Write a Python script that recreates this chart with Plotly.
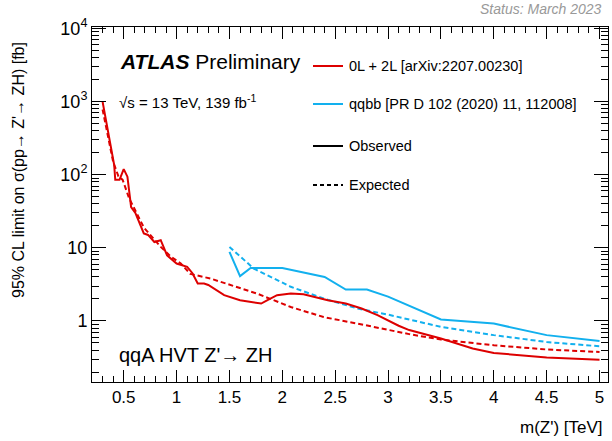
import plotly.graph_objects as go

# 0L + 2L (red)
red_obs_x = [0.3, 0.41, 0.42, 0.46, 0.5, 0.535, 0.57, 0.61, 0.69, 0.73, 0.79, 0.85, 0.91, 1.0, 1.1, 1.15, 1.2, 1.26, 1.3, 1.45, 1.6, 1.8, 1.86, 1.95, 2.08, 2.2, 2.43, 2.6, 2.75, 2.9, 3.1, 3.2, 3.5, 3.8, 4.0, 4.5, 5.0]
red_obs_y = [1000, 135, 85, 85, 119, 94, 36, 30, 15.7, 15, 12, 12.7, 7.9, 6.1, 5.5, 4.5, 3.25, 3.25, 3.1, 2.25, 1.92, 1.73, 1.92, 2.25, 2.37, 2.32, 1.92, 1.73, 1.48, 1.2, 0.86, 0.75, 0.574, 0.42, 0.365, 0.316, 0.295]
red_exp_x = [0.3, 0.4, 0.45, 0.49, 0.55, 0.69, 0.85, 0.95, 1.04, 1.13, 1.32, 1.76, 2.08, 2.39, 2.71, 3.0, 3.2, 3.5, 4.0, 4.5, 5.0]
red_exp_y = [780, 150, 95, 85, 48, 19, 10.3, 7.5, 6.1, 4.4, 3.8, 2.37, 1.55, 1.13, 0.92, 0.75, 0.66, 0.556, 0.465, 0.407, 0.376]

# qqbb (blue)
blue_obs_x = [1.5, 1.6, 1.7, 2.0, 2.4, 2.6, 2.8, 3.0, 3.5, 4.0, 4.5, 5.0]
blue_obs_y = [8.8, 4.1, 5.3, 5.3, 4.0, 2.69, 2.69, 2.15, 1.05, 0.92, 0.64, 0.53]
blue_exp_x = [1.5, 1.73, 2.08, 2.39, 2.71, 3.0, 3.5, 4.0, 4.5, 5.0]
blue_exp_y = [10.3, 5.2, 2.93, 2.03, 1.48, 1.22, 0.83, 0.64, 0.515, 0.45]

x_ticks = [0.5, 1, 1.5, 2, 2.5, 3, 3.5, 4, 4.5, 5]
x_ticklabels = ["0.5", "1", "1.5", "2", "2.5", "3", "3.5", "4", "4.5", "5"]
y_ticks = [1, 10, 100, 1000, 10000]
y_ticklabels = ["1", "10", "10<sup>2</sup>", "10<sup>3</sup>", "10<sup>4</sup>"]

RED = "#dd0000"
BLUE = "#12b0ee"
DASH = "5px,3px"

fig = go.Figure()
fig.add_trace(go.Scatter(x=red_exp_x, y=red_exp_y, mode="lines", line=dict(color=RED, width=2, dash=DASH)))
fig.add_trace(go.Scatter(x=blue_exp_x, y=blue_exp_y, mode="lines", line=dict(color=BLUE, width=2, dash=DASH)))
fig.add_trace(go.Scatter(x=red_obs_x, y=red_obs_y, mode="lines", line=dict(color=RED, width=2)))
fig.add_trace(go.Scatter(x=blue_obs_x, y=blue_obs_y, mode="lines", line=dict(color=BLUE, width=2)))

x_minor = [round(0.2 + 0.1 * i, 2) for i in range(0, 50) if round(0.2 + 0.1 * i, 2) not in x_ticks]
y_minor = [m * 10 ** e for e in range(-1, 4) for m in range(2, 10)]

FONT = "Liberation Sans, Arial, sans-serif"

fig.update_layout(
    width=612, height=441,
    margin=dict(l=92, r=4, t=27, b=59),
    paper_bgcolor="white", plot_bgcolor="white",
    showlegend=False,
    font=dict(family=FONT, color="black", size=16),
    xaxis=dict(range=[0.2, 5.08], tickvals=x_ticks, ticktext=x_ticklabels,
               ticks="inside", ticklen=12, tickwidth=1, tickcolor="black",
               mirror="allticks", showline=True, linecolor="black", linewidth=1,
               showgrid=False, zeroline=False, tickfont=dict(size=17),
               minor=dict(tickvals=x_minor, ticks="inside", ticklen=6, tickcolor="black", showgrid=False)),
    yaxis=dict(type="log", range=[-0.835, 4.02], tickvals=y_ticks, ticktext=y_ticklabels,
               ticks="inside", ticklen=14, tickwidth=1, tickcolor="black",
               mirror="allticks", showline=True, linecolor="black", linewidth=1,
               showgrid=False, zeroline=False, tickfont=dict(size=18),
               minor=dict(tickvals=y_minor, ticks="inside", ticklen=7, tickcolor="black", showgrid=False)),
)

def px2paper(px, py):
    return (px - 92) / 516, (382 - py) / 355

annots = []
def add_text(text, px, py, size, xanchor="left", color="black", **kw):
    x, y = px2paper(px, py)
    annots.append(dict(text=text, x=x, y=y, xref="paper", yref="paper", xanchor=xanchor,
                       yanchor="middle", showarrow=False, font=dict(size=size, color=color, family=FONT), **kw))

add_text("<b><i>ATLAS</i></b> Preliminary", 118, 62, 21)
add_text("√s = 13 TeV, 139 fb<sup>-1</sup>", 117, 101, 15)
add_text("0L + 2L [arXiv:2207.00230]", 347, 66, 14.5)
add_text("qqbb [PR D 102 (2020) 11, 112008]", 347, 104, 14.5)
add_text("Observed", 347, 146, 14.5)
add_text("Expected", 347, 185, 14.5)
add_text("qqA HVT Z'→ ZH", 117, 355, 20)
add_text("<i>Status: March 2023</i>", 604, 9, 14, xanchor="right", color="#999999")
add_text("m(Z') [TeV]", 605, 427, 17, xanchor="right")
add_text("95% CL limit on σ(pp→ Z'→ ZH) [fb]", 18, 170, 16, xanchor="center", textangle=-90)
fig.update_layout(annotations=annots)

# legend line samples
legend_rows = [(66, RED, "solid"), (104, BLUE, "solid"), (146, "black", "solid"), (185, "black", "4px,3px")]
for py, col, dash in legend_rows:
    x0, y0 = px2paper(313, py)
    x1, _ = px2paper(343, py)
    fig.add_shape(type="line", xref="paper", yref="paper", x0=x0, x1=x1, y0=y0, y1=y0,
                  line=dict(color=col, width=2, dash=dash))

fig.write_html("out.html")
